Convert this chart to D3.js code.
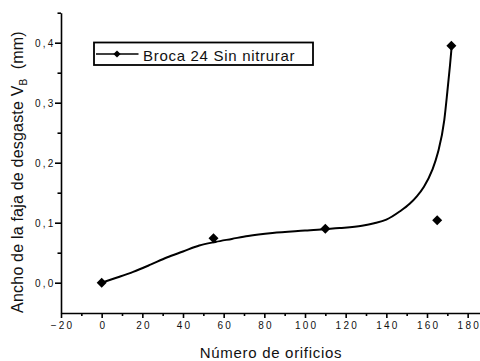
<!DOCTYPE html>
<html>
<head>
<meta charset="utf-8">
<script src="https://cdn.jsdelivr.net/npm/d3@7"></script>
<style>
  body { margin: 0; background: #fff; }
  svg.vis { display: block; width: 480px; height: 361px; background: #fff; }
  text { font-family: Arial, "Liberation Sans", sans-serif; fill: #111; }
</style>
</head>
<body>
<svg class="vis" width="480" height="361"></svg>
<script>

// measured points (Broca 24 Sin nitrurar)
const pts_x = [0, 55, 110, 165, 172];
const pts_y = [0, 0.074, 0.09, 0.104, 0.395];

// fitted curve
const fit_x = [0, 8, 15.5, 24, 32, 40, 48, 56, 64, 72, 84, 100, 117, 128, 134, 140, 146.7, 151.6, 155, 158.5, 162.6, 165.3, 168.5, 170, 171.3, 172.2];
const fit_y = [0, 0.009, 0.018, 0.030, 0.042, 0.052, 0.062, 0.068, 0.073, 0.078, 0.083, 0.087, 0.091, 0.095, 0.099, 0.105, 0.119, 0.132, 0.144, 0.160, 0.188, 0.216, 0.271, 0.318, 0.362, 0.396];

const x_ticks = [-20, 0, 20, 40, 60, 80, 100, 120, 140, 160, 180];
const x_minor = [-10, 10, 30, 50, 70, 90, 110, 130, 150, 170, 190];
const y_ticks = [0, 0.1, 0.2, 0.3, 0.4];
const y_minor = [0.05, 0.15, 0.25, 0.35, 0.45];

const legend_label = 'Broca 24 Sin nitrurar';

const v = {

    elems : {
        svg : 'svg.vis'
    },

    scales : {

        x : d3.scaleLinear().domain([-20, 190]).range([61, 488]),
        y : d3.scaleLinear().domain([-0.05, 0.45]).range([312.7, 12.7])

    },

    axes : {

        render : (svg) => {

            const x = v.scales.x;
            const y = v.scales.y;
            const comma = d => d3.format('.1f')(d).replace('.', ',');

            // minor ticks first
            svg.append('g')
              .attr('transform', 'translate(0,313)')
              .call(d3.axisBottom(x).tickValues(x_minor).tickSize(3).tickFormat(''))
              .call(g => g.select('.domain').remove());

            svg.append('g')
              .attr('transform', 'translate(61,0)')
              .call(d3.axisLeft(y).tickValues(y_minor).tickSize(3.5).tickFormat(''))
              .call(g => g.select('.domain').remove());

            const gx = svg.append('g')
              .attr('transform', 'translate(0,313)')
              .call(d3.axisBottom(x).tickValues(x_ticks).tickSize(5).tickSizeOuter(0).tickPadding(4));

            gx.selectAll('text')
              .attr('font-size', '10px')
              .attr('letter-spacing', '2.2px')
              .attr('dx', '1.1px')
              .attr('y', 16)
              .attr('dy', 0);

            const gy = svg.append('g')
              .attr('transform', 'translate(61,0)')
              .call(d3.axisLeft(y).tickValues(y_ticks).tickSize(6).tickSizeOuter(0).tickFormat(comma));

            gy.selectAll('text')
              .attr('font-size', '10px')
              .attr('letter-spacing', '2.2px')
              .attr('x', -5.5)
              .attr('dy', '0.36em');

            svg.selectAll('.domain, .tick line')
              .attr('stroke', '#000')
              .attr('stroke-width', 1.6);

            svg.selectAll('.tick text').attr('fill', '#111').attr('font-family', 'Arial, "Liberation Sans", sans-serif');

        }

    },

    chart : {

        render : () => {

            const svg = d3.select(v.elems.svg);
            const x = v.scales.x;
            const y = v.scales.y;

            v.axes.render(svg);

            const fit = fit_x.map((d, i) => [d, fit_y[i]]);
            const pts = pts_x.map((d, i) => [d, pts_y[i]]);

            svg.append('path')
              .datum(fit)
              .attr('fill', 'none')
              .attr('stroke', '#000')
              .attr('stroke-width', 2)
              .attr('d', d3.line().x(d => x(d[0])).y(d => y(d[1])).curve(d3.curveMonotoneX));

            const diamond = d3.symbol().type(d3.symbolSquare).size(50);

            svg.append('g')
              .selectAll('path.pt')
              .data(pts)
              .join('path')
              .classed('pt', true)
              .attr('d', diamond)
              .attr('fill', '#000')
              .attr('transform', d => `translate(${x(d[0])},${y(d[1])}) rotate(45)`);

            // legend
            const lg = svg.append('g');

            lg.append('rect')
              .attr('x', 94).attr('y', 42.5)
              .attr('width', 219).attr('height', 22.5)
              .attr('fill', '#fff')
              .attr('stroke', '#000')
              .attr('stroke-width', 1.8);

            lg.append('line')
              .attr('x1', 96).attr('x2', 138.5)
              .attr('y1', 54).attr('y2', 54)
              .attr('stroke', '#000')
              .attr('stroke-width', 1.6);

            lg.append('path')
              .attr('d', d3.symbol().type(d3.symbolSquare).size(26))
              .attr('transform', 'translate(117,54) rotate(45)');

            lg.append('text')
              .attr('x', 143)
              .attr('y', 60.5)
              .attr('font-size', '15px')
              .attr('letter-spacing', '0.7px')
              .text(legend_label);

            // axis titles
            svg.append('text')
              .attr('x', 271)
              .attr('y', 358)
              .attr('text-anchor', 'middle')
              .attr('font-size', '15px')
              .attr('letter-spacing', '0.7px')
              .text('Número de orificios');

            const yt = svg.append('text')
              .attr('transform', 'translate(23.3,172) rotate(-90)')
              .attr('text-anchor', 'middle')
              .attr('font-size', '16px')
              .attr('letter-spacing', '0.2px');

            yt.append('tspan').text('Ancho de la faja de desgaste V');
            yt.append('tspan').attr('font-size', '10px').attr('dy', 4).text('B');
            yt.append('tspan').attr('dy', -4).text('\u00a0 (mm)');

        }

    },

    ctrl : {

        init : () => {

            v.chart.render();

        }

    }

}

v.ctrl.init();
</script>
</body>
</html>
